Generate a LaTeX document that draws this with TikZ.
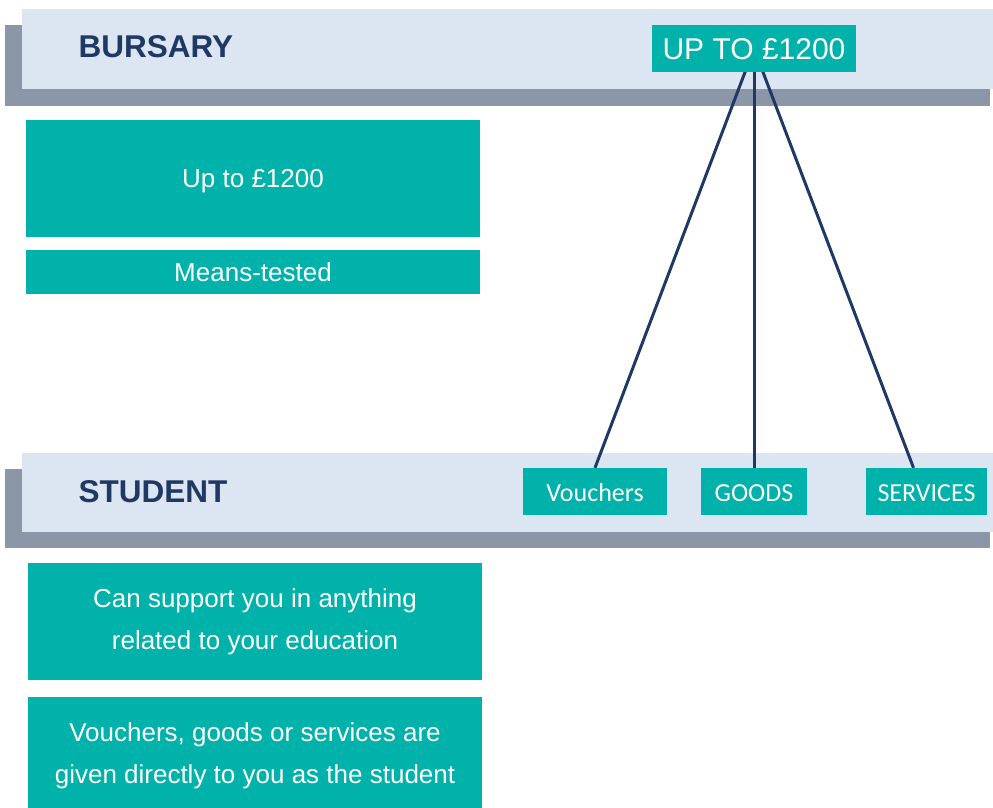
\documentclass[tikz,border=0pt]{standalone}
\usepackage{fontspec}
\setmainfont{Liberation Sans}
\newfontfamily\carlito{Carlito}
\usetikzlibrary{positioning}

\definecolor{bteal}{HTML}{00B2AA}
\definecolor{blight}{HTML}{DCE6F2}
\definecolor{bshadow}{HTML}{8C96A9}
\definecolor{bnavy}{HTML}{1F3864}

\pgfdeclarelayer{banner}
\pgfdeclarelayer{links}
\pgfsetlayers{banner,links,main}

\begin{document}
\begin{tikzpicture}[x=1pt,y=-1pt,
    tealbox/.style={fill=bteal,text=white,inner sep=0pt,minimum width=454pt,
      align=center,font=\fontsize{26}{42}\selectfont},
    oneline/.style={text height=17.5pt,text depth=0pt},
    tag/.style={fill=bteal,text=white,inner sep=0pt,minimum height=47pt,
      text height=20.5pt,text depth=0pt,font=\carlito\fontsize{26}{30}\selectfont},
    heading/.style={anchor=base west,text=bnavy,font=\bfseries\fontsize{31.5}{36}\selectfont},
    link/.style={draw=bnavy,line width=3pt}]
    \useasboundingbox (0,0) rectangle (993,807);

    % banners
    \begin{pgfonlayer}{banner}
      \fill[bshadow] (5,25) rectangle (990,106);
      \fill[blight] (22,9) rectangle (993,89);
      \fill[bshadow] (5,469) rectangle (990,548);
      \fill[blight] (22,453) rectangle (993,532);
    \end{pgfonlayer}

    \node[heading] (bursary) at (75,57)  {BURSARY};
    \node[heading] (student) at (75,502) {STUDENT};

    \node[tag, minimum width=204pt, text height=21.6pt,
      font=\fontsize{30}{36}\selectfont] (upto) at (754,48.5) {UP TO £1200};
    \node[tag, minimum width=144pt] (vouchers) at (595,491.5)   {Vouchers};
    \node[tag, minimum width=106pt] (goods)    at (754,491.5)   {GOODS};
    \node[tag, minimum width=121pt] (services) at (926.5,491.5) {SERVICES};

    \begin{pgfonlayer}{links}
      \path[link]
      (upto.center) edge (vouchers.north)
      (upto.center) edge (goods.north)
      (upto.center) edge ([xshift=-13pt]services.north)
      ;
    \end{pgfonlayer}

    % left column
    \node[tealbox, oneline, minimum height=117pt] (amount) at (253,178.5) {Up to £1200};
    \node[tealbox, oneline, minimum height=44pt]  (means) [below=13pt of amount] {Means-tested};
    \node[tealbox, minimum height=117pt] (support) at (255,621.5)
      {Can support you in anything\\related to your education};
    \node[tealbox, minimum height=117pt] (given) [below=17pt of support]
      {Vouchers, goods or services are\\given directly to you as the student};
  \end{tikzpicture}
\end{document}
